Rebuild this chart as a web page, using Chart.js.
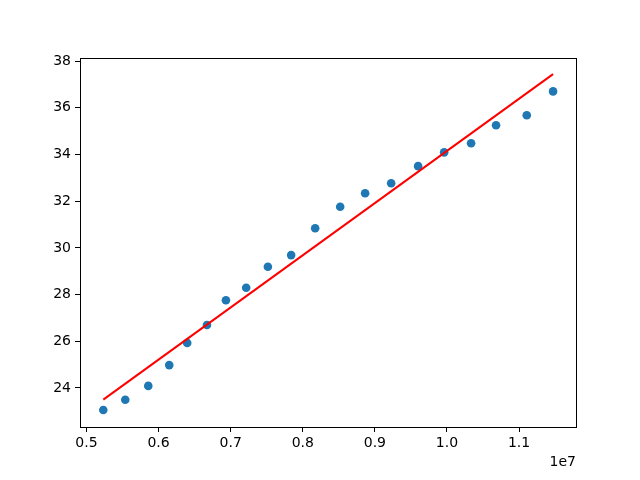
<!DOCTYPE html>
<html>
<head>
<meta charset="utf-8">
<script src="https://cdn.jsdelivr.net/npm/chart.js@4"></script>
<style>
html,body{margin:0;padding:0;background:#fff;}
#wrap{width:640px;height:480px;}
</style>
</head>
<body>
<div id="wrap"><canvas id="c" width="640" height="480"></canvas></div>
<script>
const xValues = [0.5233e7, 0.5538e7, 0.5857e7, 0.6148e7, 0.6397e7, 0.6671e7, 0.6934e7, 0.7215e7, 0.7516e7, 0.7839e7,
                 0.8172e7, 0.8519e7, 0.8865e7, 0.9226e7, 0.9600e7, 0.9961e7, 1.0335e7, 1.0681e7, 1.1107e7, 1.1472e7];
const yValues = [23.06, 23.50, 24.09, 24.98, 25.93, 26.70, 27.76, 28.29, 29.19, 29.69,
                 30.84, 31.76, 32.34, 32.77, 33.50, 34.09, 34.48, 35.25, 35.68, 36.70];
const fitX = [0.5233e7, 1.1472e7];
const fitY = [23.50, 37.44];
const xTicks = [0.5e7, 0.6e7, 0.7e7, 0.8e7, 0.9e7, 1.0e7, 1.1e7];
const yTicks = [24, 26, 28, 30, 32, 34, 36, 38];
const xOffsetLabel = '1e7';

const FONT = "'DejaVu Sans', sans-serif";

const framePlugin = {
  id: 'frame',
  afterDraw(chart) {
    const {ctx, chartArea: a} = chart;
    ctx.save();
    ctx.strokeStyle = '#000';
    ctx.lineWidth = 1;
    ctx.strokeRect(Math.round(a.left) + 0.5, Math.round(a.top) + 0.5,
                   Math.round(a.right - a.left), Math.round(a.bottom - a.top));
    ctx.fillStyle = '#000';
    ctx.font = '14px ' + FONT;
    ctx.textAlign = 'right';
    ctx.textBaseline = 'middle';
    ctx.fillText(xOffsetLabel, a.right, 462);
    ctx.restore();
  }
};

new Chart(document.getElementById('c'), {
  type: 'scatter',
  data: {
    datasets: [
      {
        type: 'line',
        data: fitX.map((x, i) => ({x: x, y: fitY[i]})),
        borderColor: '#ff0000',
        borderWidth: 2,
        pointRadius: 0,
        fill: false,
        order: 1
      },
      {
        data: xValues.map((x, i) => ({x: x, y: yValues[i]})),
        backgroundColor: '#1f77b4',
        borderColor: '#1f77b4',
        borderWidth: 0,
        pointRadius: 4.3,
        order: 2
      }
    ]
  },
  plugins: [framePlugin],
  options: {
    responsive: false,
    animation: false,
    devicePixelRatio: 1,
    layout: {padding: {left: 0, right: 64, top: 58, bottom: 0}},
    plugins: {legend: {display: false}, tooltip: {enabled: false}},
    scales: {
      x: {
        type: 'linear',
        min: 0.4910e7,
        max: 1.1790e7,
        afterBuildTicks: s => { s.ticks = xTicks.map(v => ({value: v})); },
        afterFit: s => { s.height = 53; },
        grid: {drawOnChartArea: false, drawTicks: true, tickLength: 5, tickColor: '#000', tickWidth: 1},
        border: {display: false},
        ticks: {
          color: '#000',
          font: {family: FONT, size: 14},
          padding: 3,
          maxRotation: 0,
          callback: v => (v / 1e7).toFixed(1)
        }
      },
      y: {
        type: 'linear',
        min: 22.33,
        max: 38.13,
        afterBuildTicks: s => { s.ticks = yTicks.map(v => ({value: v})); },
        afterFit: s => { s.width = 80; },
        grid: {drawOnChartArea: false, drawTicks: true, tickLength: 5, tickColor: '#000', tickWidth: 1},
        border: {display: false},
        ticks: {
          color: '#000',
          font: {family: FONT, size: 14},
          padding: 4,
          callback: v => String(v)
        }
      }
    }
  }
});
</script>
</body>
</html>
